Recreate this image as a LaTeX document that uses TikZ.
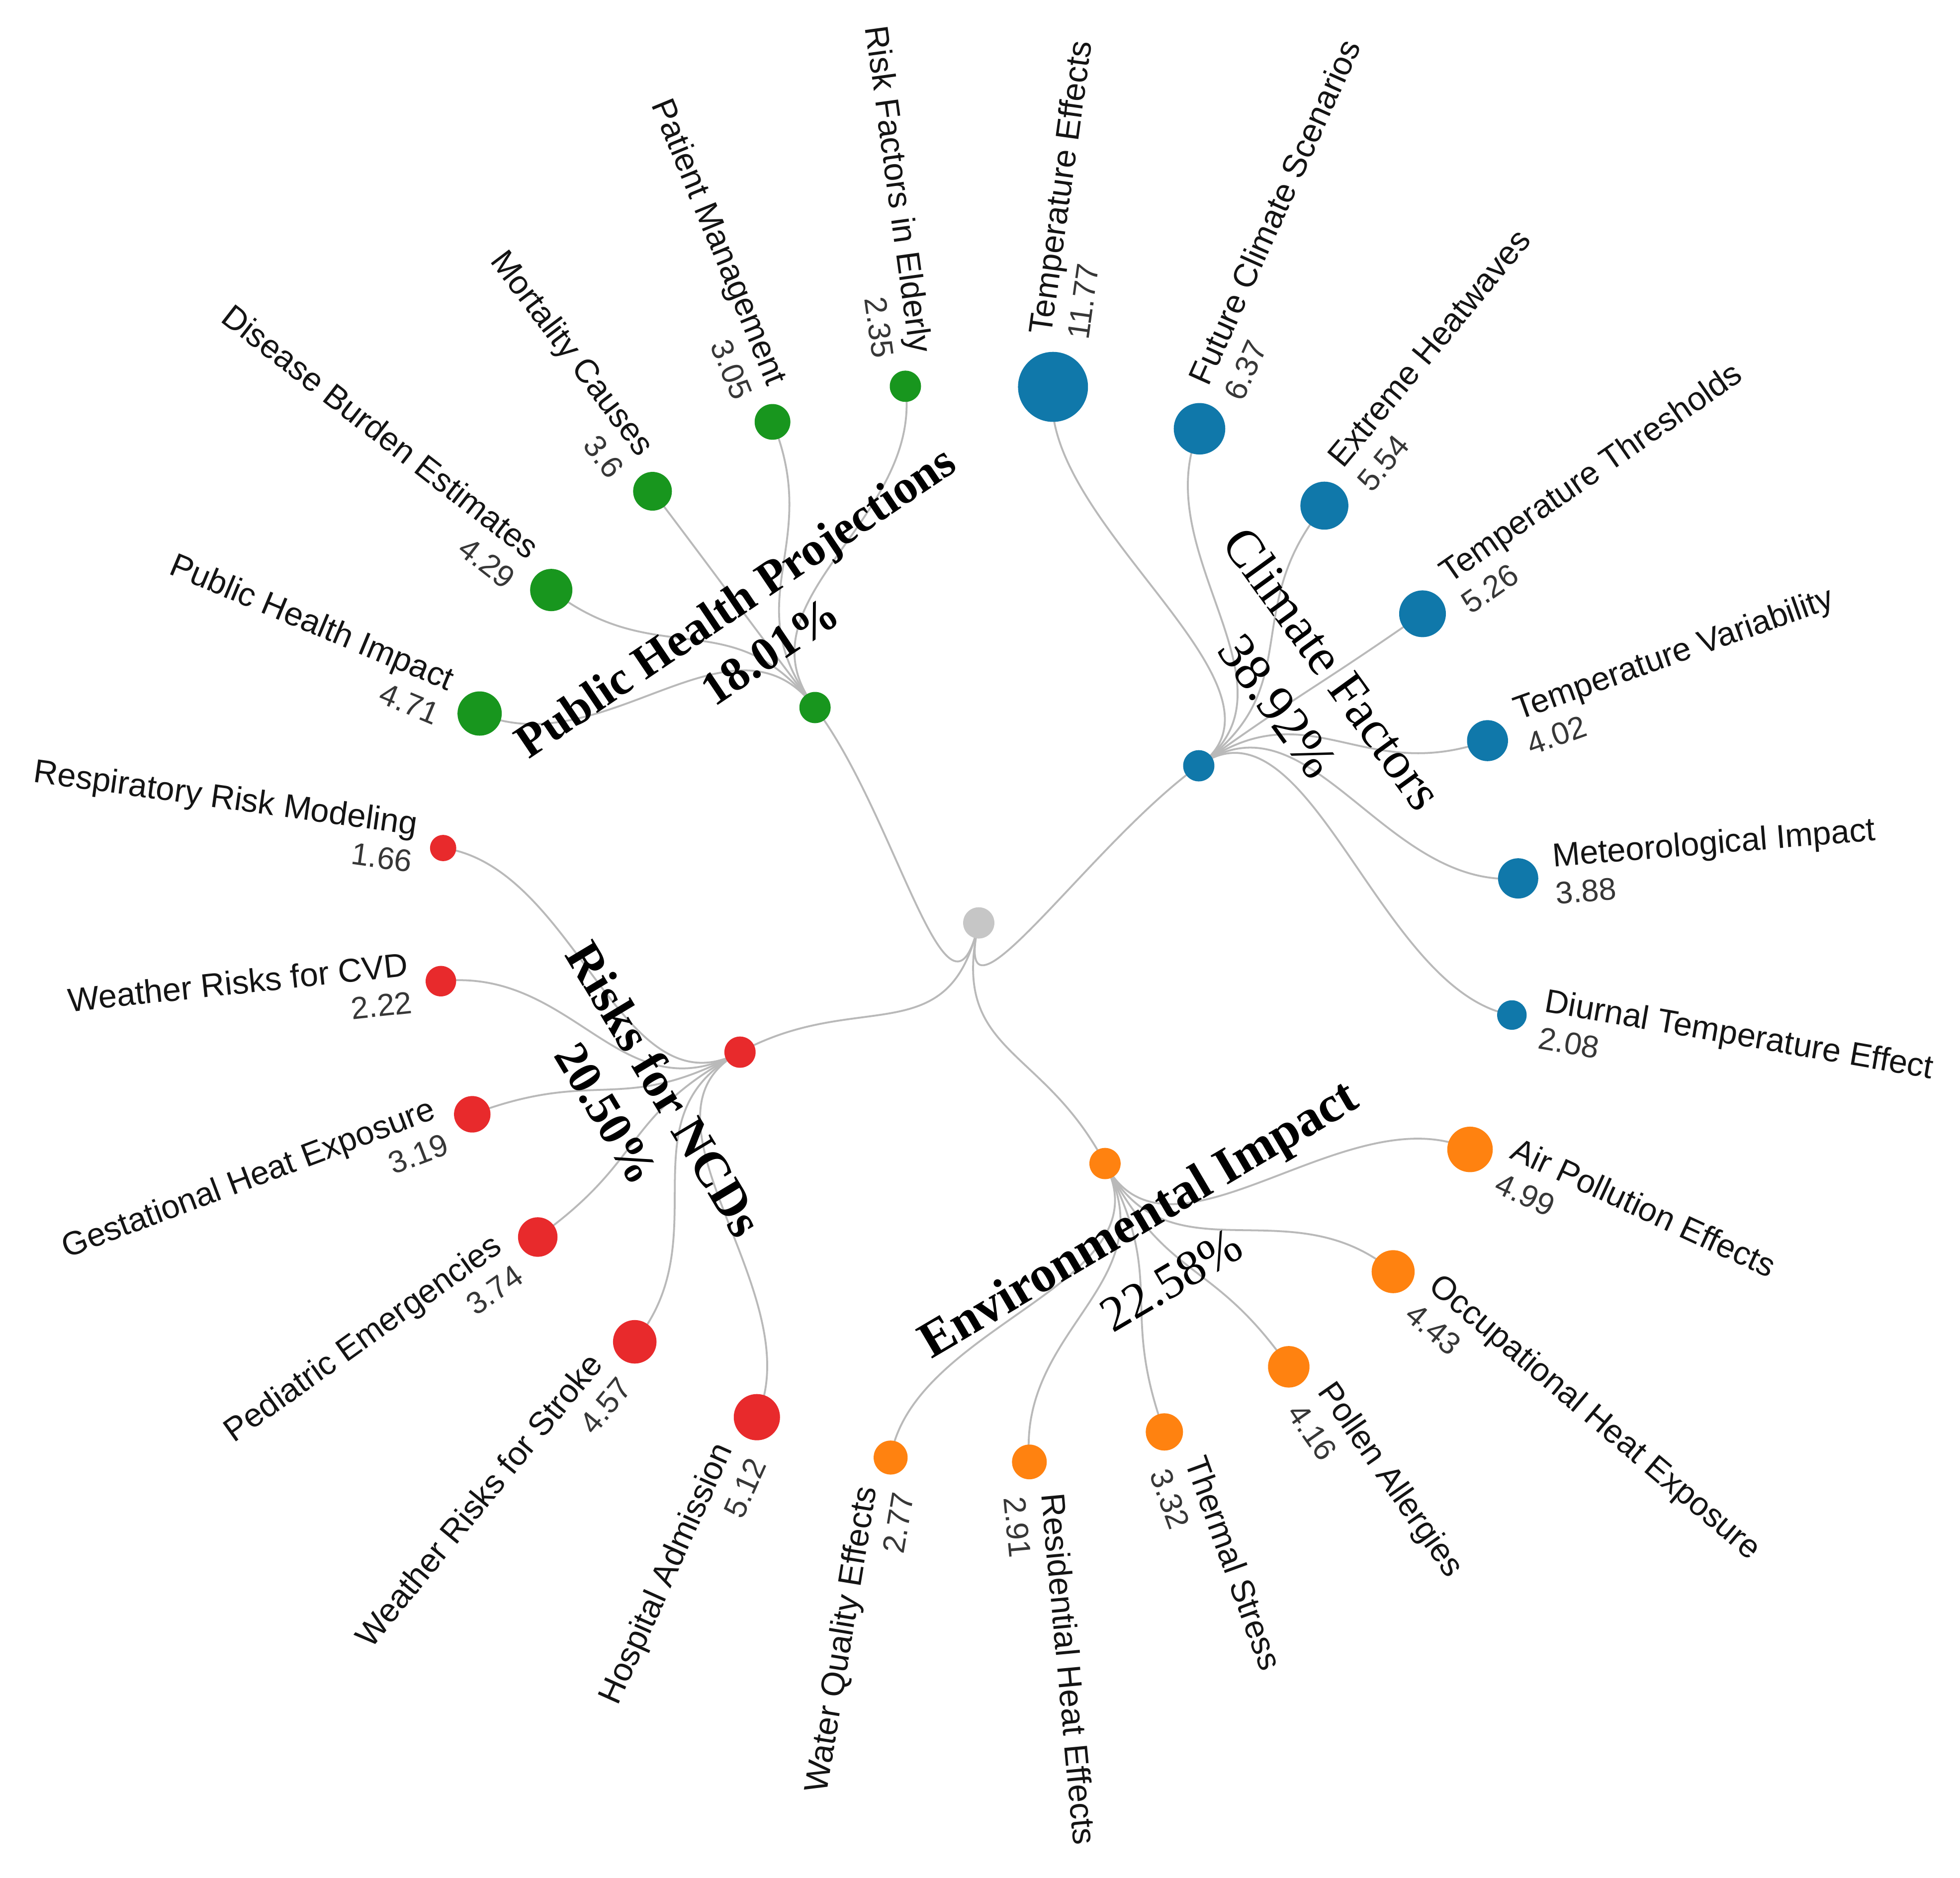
\documentclass[tikz,border=0pt]{standalone}
\usepackage{fontspec}
\usetikzlibrary{calc}
\newfontfamily\labfont{Liberation Sans}
\newfontfamily\ttlfont{Liberation Serif}
\definecolor{cb}{RGB}{16,120,170}
\definecolor{cg}{RGB}{24,150,30}
\definecolor{cr}{RGB}{232,42,44}
\definecolor{co}{RGB}{255,130,16}
\definecolor{cgray}{RGB}{198,198,198}
\definecolor{clink}{RGB}{185,185,185}
\definecolor{cnum}{RGB}{55,55,55}
\pgfdeclarelayer{back}
\pgfdeclarelayer{bg}
\pgfsetlayers{back,bg,main}
\tikzset{
  leafdot/.style={circle, inner sep=0pt, draw=none},
  hubdot/.style={circle, inner sep=0pt, draw=none, minimum size=25pt},
  link/.style={draw=clink, line width=1.5pt},
  namelab/.style={inner sep=0pt, text=black!92, font=\labfont\fontsize{26.5}{30}\selectfont, transform shape},
  vallab/.style={inner sep=0pt, text=cnum, font=\labfont\fontsize{25}{28}\selectfont, transform shape},
  gtitleb/.style={inner sep=0pt, font=\ttlfont\bfseries\fontsize{#1}{#1}\selectfont},
  gtitler/.style={inner sep=0pt, font=\ttlfont\fontsize{#1}{#1}\selectfont}
}
% right-side leaf: name, X, Y (image px), angle, radius, colour, label, value
\newcommand{\rleaf}[8]{%
  \node[leafdot, fill=#6, minimum size=#5*2pt] (#1) at (#2,-#3) {};
  \pgfmathsetmacro{\rot}{90-#4}%
  \pgfmathsetmacro{\off}{#5+12.5}%
  \begin{scope}[shift={(#1.center)}, rotate=\rot]
    \node[namelab, anchor=base west] (#1-n) at (\off,7) {#7};
    \node[vallab, anchor=base west] (#1-v) at (\off,-23) {#8};
  \end{scope}}
% left-side leaf
\newcommand{\lleaf}[8]{%
  \node[leafdot, fill=#6, minimum size=#5*2pt] (#1) at (#2,-#3) {};
  \pgfmathsetmacro{\rot}{270-#4}%
  \pgfmathsetmacro{\off}{#5+12.5}%
  \begin{scope}[shift={(#1.center)}, rotate=\rot]
    \node[namelab, anchor=base east] (#1-n) at (-\off,7) {#7};
    \node[vallab, anchor=base east] (#1-v) at (-\off,-23) {#8};
  \end{scope}}
\begin{document}
\begin{tikzpicture}[x=1pt,y=1pt]
\begin{pgfonlayer}{back}
  \fill[white] (0,0) rectangle (1568,-1502);
\end{pgfonlayer}
\useasboundingbox (0,0) rectangle (1568,-1502);

% root and hubs
\node[hubdot, fill=cgray] (root) at (783,-738.3) {};
\node[hubdot, fill=cb] (hB) at (959,-612.6) {};
\node[hubdot, fill=co] (hO) at (884,-930.8) {};
\node[hubdot, fill=cr] (hR) at (592,-841.7) {};
\node[hubdot, fill=cg] (hG) at (652,-566) {};
\coordinate (rootc) at ($(root)+(-23.7,-105.4)$);

% Climate factors
\rleaf{TE}{842.4}{309.5}{7.87}{28.0}{cb}{Temperature Effects}{11.77}
\rleaf{FC}{959.6}{343}{24.14}{20.6}{cb}{Future Climate Scenarios}{6.37}
\rleaf{EH}{1059.5}{404.5}{39.66}{19.2}{cb}{Extreme Heatwaves}{5.54}
\rleaf{TT}{1138}{491}{55.17}{18.7}{cb}{Temperature Thresholds}{5.26}
\rleaf{TV}{1190}{592.5}{70.33}{16.4}{cb}{Temperature Variability}{4.02}
\rleaf{MI}{1214.5}{702.7}{85.32}{16.1}{cb}{Meteorological Impact}{3.88}
\rleaf{DT}{1209.5}{812}{99.84}{11.8}{cb}{Diurnal Temperature Effect}{2.08}
% Environmental impact
\rleaf{AP}{1176}{919.5}{114.85}{18.2}{co}{Air Pollution Effects}{4.99}
\rleaf{OH}{1114.5}{1017.3}{130.12}{17.2}{co}{Occupational Heat Exposure}{4.43}
\rleaf{PA}{1031}{1093.4}{145.06}{16.6}{co}{Pollen Allergies}{4.16}
\rleaf{TS}{931.5}{1145.5}{160.02}{14.9}{co}{Thermal Stress}{3.32}
\rleaf{RH}{823.5}{1169.5}{174.70}{13.9}{co}{Residential Heat Effects}{2.91}
\lleaf{WQ}{712.5}{1166}{189.29}{13.6}{co}{Water Quality Effects}{2.77}
% Risks for NCDs
\lleaf{HA}{605.5}{1133.7}{204.09}{18.5}{cr}{Hospital Admission}{5.12}
\lleaf{WS}{507.8}{1073.4}{219.38}{17.4}{cr}{Weather Risks for Stroke}{4.57}
\lleaf{PE}{430.2}{989.6}{234.48}{15.8}{cr}{Pediatric Emergencies}{3.74}
\lleaf{GH}{377.8}{891.4}{249.31}{14.6}{cr}{Gestational Heat Exposure}{3.19}
\lleaf{CV}{352.7}{784.9}{263.91}{12.2}{cr}{Weather Risks for CVD}{2.22}
\lleaf{RR}{354.5}{678.4}{277.96}{10.5}{cr}{Respiratory Risk Modeling}{1.66}
% Public health projections
\lleaf{PH}{383.7}{570.8}{292.71}{17.7}{cg}{Public Health Impact}{4.71}
\lleaf{DB}{441}{472}{307.87}{16.9}{cg}{Disease Burden Estimates}{4.29}
\lleaf{MC}{522}{393}{322.89}{15.5}{cg}{Mortality Causes}{3.6}
\lleaf{PM}{618}{337.5}{337.61}{14.3}{cg}{Patient Management}{3.05}
\lleaf{RE}{724.3}{309}{352.21}{12.5}{cg}{Risk Factors in Elderly}{2.35}

% group labels
\node[gtitleb=38, rotate=34, anchor=base] (tG) at (595,-491.5) {Public Health Projections};
\node[gtitleb=38, rotate=34] (pG) at (616,-521) {18.01\%};
\node[gtitler=42, rotate=-54, anchor=base] (tB) at (1055,-543) {Climate Factors};
\node[gtitler=42, rotate=-54] (pB) at (1022,-565) {38.92\%};
\node[gtitleb=40, rotate=-59, anchor=base] (tR) at (520,-878) {Risks for NCDs};
\node[gtitleb=38, rotate=-59] (pR) at (485,-891) {20.50\%};
\node[gtitleb=41, rotate=30.5, anchor=base] (tO) at (917,-986) {Environmental Impact};
\node[gtitler=40, rotate=30.5] (pO) at (937,-1024) {22.58\%};

% connectors
\begin{pgfonlayer}{bg}
  \foreach \h in {hB,hO,hR,hG}
    \draw[link] (root.center) .. controls (rootc) and ($(root)!0.5!(\h)$) .. (\h.center);
  \foreach \h/\l in {hB/TE,hB/FC,hB/EH,hB/TT,hB/TV,hB/MI,hB/DT,
                     hO/AP,hO/OH,hO/PA,hO/TS,hO/RH,hO/WQ,
                     hR/HA,hR/WS,hR/PE,hR/GH,hR/CV,hR/RR,
                     hG/PH,hG/DB,hG/MC,hG/PM,hG/RE}
    \draw[link] (\h.center) .. controls ($(root)!1.5!(\h)$) and ($(root)!0.75!(\l)$) .. (\l.center);
\end{pgfonlayer}
\end{tikzpicture}
\end{document}
